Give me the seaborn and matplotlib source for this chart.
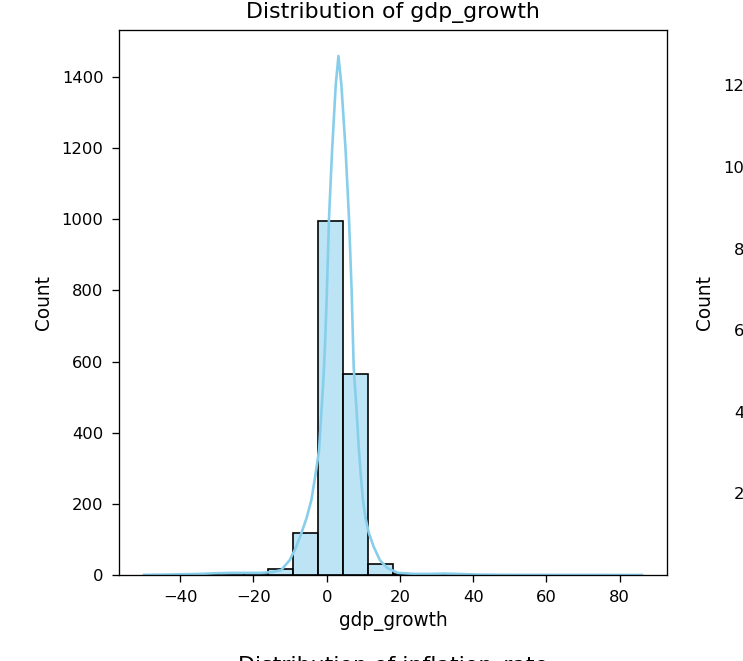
import pandas as pd
import seaborn as sns
import matplotlib
matplotlib.use("Agg")
import matplotlib.pyplot as plt

# histogram: 20 bins over the gdp_growth range
bin_start = -49.9
bin_width = 6.8
counts = [1, 1, 2, 6, 7, 17, 118, 995, 565, 32, 2, 3, 2, 1, 0, 1, 0, 0, 0, 1]

# kde curve (scaled to counts)
kde_x = [-49.9, -45, -40, -35, -30, -26, -22, -18, -15, -12.4, -10.1, -8.5, -6.9,
         -5.5, -4.2, -3.1, -2.1, -1.5, -0.9, -0.45, 0.0, 0.63, 1.45, 2.46, 3.2,
         4.01, 5.18, 6.08, 6.8, 7.37, 8.1, 8.8, 9.3, 9.9, 10.6, 11.5, 12.8, 14.5,
         16.5, 19.4, 24, 28, 32, 36, 42, 50, 60, 70, 86.1]
kde_y = [0.5, 1, 2, 3, 5, 6, 6, 6, 8, 14, 42, 75, 118,
         160, 210, 280, 350, 450, 550, 650, 780, 1004, 1190, 1377, 1459,
         1377, 1190, 1004, 800, 583, 470, 350, 280, 210, 160, 118, 80, 42,
         20, 6, 3, 3, 4, 3, 1, 0.5, 0.3, 0.2, 0.1]

# neighbouring panels that are cut off at the edges of the picture
right_ylim_max = 1336
next_title = "Distribution of inflation_rate"

edges = [bin_start + bin_width * i for i in range(len(counts) + 1)]
df = pd.DataFrame({
    "gdp_growth": [(edges[i] + edges[i + 1]) / 2 for i in range(len(counts))],
    "count": counts,
})

plt.rcParams["xtick.major.size"] = 4.5
plt.rcParams["ytick.major.size"] = 4.5
plt.rcParams["xtick.major.pad"] = 4.5
plt.rcParams["ytick.major.pad"] = 5.0
plt.rcParams["axes.labelsize"] = 11.3
plt.rcParams["axes.labelpad"] = 5.5
plt.rcParams["axes.titlesize"] = 13.4
plt.rcParams["axes.titlepad"] = 7.5

dpi = 118
fig = plt.figure(figsize=(743 / dpi, 661 / dpi), dpi=dpi)

ax = fig.add_axes([0.1602, 0.1301, 0.7375, 0.8245])
sns.histplot(data=df, x="gdp_growth", weights="count", bins=edges,
             color="skyblue", edgecolor="black", alpha=0.55, ax=ax)
sns.lineplot(x=kde_x, y=kde_y, color="skyblue", linewidth=1.6, ax=ax)
ax.set_title("Distribution of gdp_growth")
ax.set_xlabel("gdp_growth", labelpad=4)
ax.set_ylabel("Count")

# second panel, only its y labels show at the right edge
ax2 = fig.add_axes([1.051, 0.1301, 0.7375, 0.8245])
ax2.set_ylim(0, right_ylim_max)
ax2.set_ylabel("Count")

# panel of the next row, only the top of its title shows
ax3 = fig.add_axes([0.1602, -0.5635, 0.7375, 0.529])
ax3.set_title(next_title)

fig.savefig("out.png", dpi=dpi)
